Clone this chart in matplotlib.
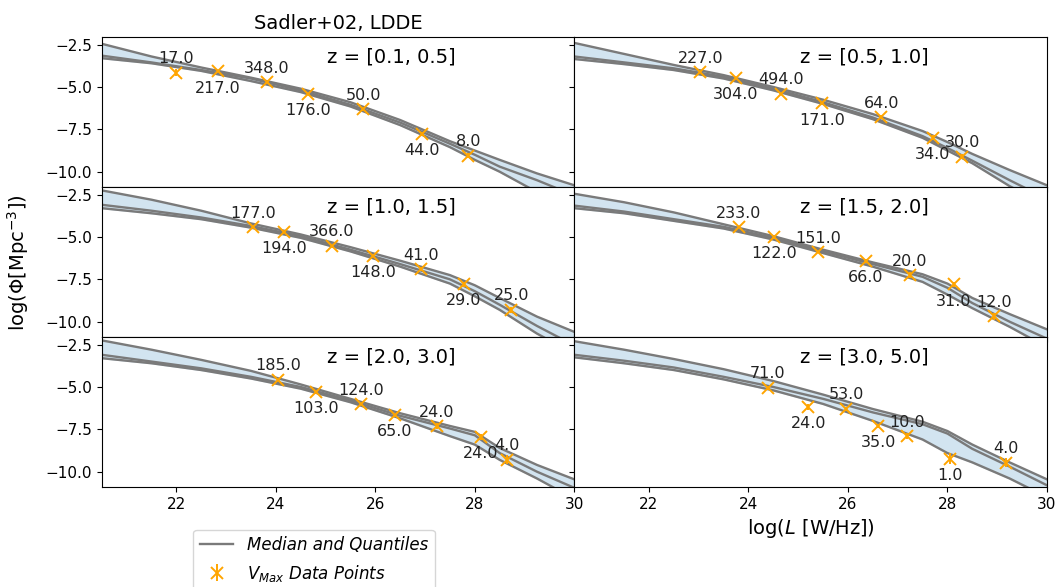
import matplotlib.pyplot as plt
import numpy as np

# ============================================================
# Data
# ============================================================
z_bins = ["[0.1, 0.5]", "[0.5, 1.0]", "[1.0, 1.5]", "[1.5, 2.0]", "[2.0, 3.0]", "[3.0, 5.0]"]

# model curves: log L grid, upper quantile, median, lower quantile
curve_L = [20.5, 21.5, 22.5, 23.5, 24.5, 25.5, 26.5, 27.5, 28.0, 28.5, 29.25, 30.0]

upper = [
    [-2.45, -3.2, -3.85, -4.45, -5.1, -5.9, -6.95, -8.2, -8.75, -9.3, -10.1, -10.8],
    [-2.4, -3.05, -3.7, -4.3, -5.0, -5.75, -6.6, -7.6, -8.25, -8.95, -9.9, -10.8],
    [-2.25, -2.8, -3.45, -4.2, -4.85, -5.6, -6.4, -7.25, -7.85, -8.6, -9.7, -10.6],
    [-2.45, -2.95, -3.55, -4.25, -4.95, -5.75, -6.5, -7.2, -7.75, -8.6, -9.55, -10.45],
    [-2.25, -2.8, -3.4, -4.05, -4.85, -5.7, -6.55, -7.3, -7.65, -8.6, -9.6, -10.45],
    [-2.3, -2.8, -3.35, -3.95, -4.65, -5.45, -6.3, -7.05, -7.6, -8.4, -9.45, -10.45],
]
median = [
    [-3.15, -3.55, -4.0, -4.5, -5.2, -6.05, -7.1, -8.35, -9.0, -9.7, -10.5, -11.4],
    [-3.2, -3.55, -3.9, -4.4, -5.1, -5.9, -6.8, -7.9, -8.6, -9.35, -10.5, -11.6],
    [-3.1, -3.45, -3.85, -4.35, -4.95, -5.75, -6.6, -7.5, -8.2, -9.0, -10.25, -11.4],
    [-3.15, -3.5, -3.95, -4.4, -5.05, -5.85, -6.6, -7.35, -8.0, -8.9, -10.0, -11.0],
    [-3.1, -3.5, -3.9, -4.4, -5.0, -5.8, -6.7, -7.45, -7.85, -8.9, -10.0, -10.95],
    [-3.1, -3.45, -3.85, -4.4, -5.0, -5.7, -6.5, -7.2, -7.75, -8.65, -9.7, -10.8],
]
lower = [
    [-3.3, -3.6, -4.05, -4.65, -5.3, -6.15, -7.25, -8.55, -9.3, -10.0, -11.2, -12.2],
    [-3.35, -3.65, -4.0, -4.5, -5.2, -6.0, -6.9, -8.0, -8.75, -9.5, -10.85, -12.0],
    [-3.3, -3.6, -3.95, -4.45, -5.05, -5.85, -6.75, -7.75, -8.5, -9.3, -10.7, -11.9],
    [-3.3, -3.6, -4.05, -4.5, -5.15, -5.95, -6.75, -7.65, -8.4, -9.2, -10.3, -11.5],
    [-3.3, -3.6, -4.0, -4.5, -5.1, -5.9, -6.85, -7.9, -8.4, -9.3, -10.4, -11.6],
    [-3.25, -3.6, -4.0, -4.55, -5.2, -6.0, -7.0, -8.1, -8.9, -9.45, -10.4, -11.5],
]

# Vmax data points: log L, log Phi, error, number of sources
vmax_L = [
    [21.99, 22.83, 23.82, 24.64, 25.76, 26.93, 27.87],
    [23.03, 23.74, 24.65, 25.48, 26.67, 27.70, 28.30],
    [23.54, 24.16, 25.13, 25.95, 26.92, 27.78, 28.73],
    [23.81, 24.51, 25.40, 26.36, 27.24, 28.13, 28.93],
    [24.04, 24.80, 25.72, 26.39, 27.23, 28.12, 28.64],
    [24.39, 25.20, 25.97, 26.61, 27.19, 28.05, 29.17],
]
vmax_phi = [
    [-4.15, -4.08, -4.72, -5.39, -6.32, -7.76, -9.05],
    [-4.14, -4.47, -5.39, -5.97, -6.78, -7.99, -9.11],
    [-4.43, -4.71, -5.52, -6.11, -6.90, -7.79, -9.30],
    [-4.44, -5.02, -5.90, -6.42, -7.26, -7.80, -9.68],
    [-4.56, -5.29, -6.00, -6.67, -7.31, -7.96, -9.28],
    [-5.05, -6.19, -6.28, -7.30, -7.89, -9.23, -9.46],
]
vmax_err = [
    [0.22, 0.06, 0.04, 0.06, 0.1, 0.12, 0.15],
    [0.06, 0.05, 0.04, 0.06, 0.1, 0.14, 0.15],
    [0.06, 0.06, 0.04, 0.07, 0.12, 0.15, 0.16],
    [0.05, 0.07, 0.07, 0.1, 0.18, 0.15, 0.2],
    [0.06, 0.08, 0.08, 0.1, 0.17, 0.17, 0.28],
    [0.1, 0.17, 0.12, 0.14, 0.2, 0.32, 0.28],
]
vmax_n = [
    [17.0, 217.0, 348.0, 176.0, 50.0, 44.0, 8.0],
    [227.0, 304.0, 494.0, 171.0, 64.0, 34.0, 30.0],
    [177.0, 194.0, 366.0, 148.0, 41.0, 29.0, 25.0],
    [233.0, 122.0, 151.0, 66.0, 20.0, 31.0, 12.0],
    [185.0, 103.0, 124.0, 65.0, 24.0, 24.0, 4.0],
    [71.0, 24.0, 53.0, 35.0, 10.0, 1.0, 4.0],
]

# ============================================================
# Figure
# ============================================================
fig, axes = plt.subplots(3, 2, figsize=(10.57, 5.87), dpi=100, sharex=True, sharey=True)
fig.subplots_adjust(left=0.0962, right=0.9905, top=0.937, bottom=0.1704, wspace=0, hspace=0)

for k, ax in enumerate(axes.flat):
    ax.fill_between(curve_L, upper[k], lower[k], color="#d2e4f0", zorder=1)
    line_handle, = ax.plot(curve_L, upper[k], color="#7a7a7a", lw=1.7, zorder=2)
    ax.plot(curve_L, median[k], color="#7a7a7a", lw=1.7, zorder=2)
    ax.plot(curve_L, lower[k], color="#7a7a7a", lw=1.7, zorder=2)
    err_handle = ax.errorbar(
        vmax_L[k], vmax_phi[k], yerr=vmax_err[k],
        fmt="x", color="orange", ms=8, mew=1.4, elinewidth=1.4, zorder=3,
    )
    for i, (xv, yv, n) in enumerate(zip(vmax_L[k], vmax_phi[k], vmax_n[k])):
        dy = 10 if i % 2 == 0 else -12
        ax.annotate(f"{n:.1f}", (xv, yv), xytext=(0, dy), textcoords="offset points",
                    ha="center", va="center", fontsize=11.5, color="#222222", zorder=4)
    ax.text(0.613, 0.865, f"z = {z_bins[k]}", transform=ax.transAxes,
            ha="center", va="center", fontsize=14)
    ax.tick_params(labelsize=11)

ax0 = axes[0, 0]
ax0.set_xlim(20.5, 30)
ax0.set_ylim(-10.9, -2.05)
ax0.set_xticks([22, 24, 26, 28, 30])
ax0.set_yticks([-2.5, -5.0, -7.5, -10.0])
ax0.set_title("Sadler+02, LDDE", fontsize=14)

axes[2, 1].set_xlabel(r"log($L$ [W/Hz])", fontsize=14)
fig.text(0.017, 0.553, r"log($\Phi$[Mpc$^{-3}$])", rotation=90,
         ha="center", va="center", fontsize=14)

fig.legend(
    [line_handle, err_handle],
    ["Median and Quantiles", r"$V_{Max}$ Data Points"],
    loc="upper left", bbox_to_anchor=(0.175, 0.112),
    prop={"style": "italic", "size": 12},
)

fig.savefig("out.png", dpi=100)
